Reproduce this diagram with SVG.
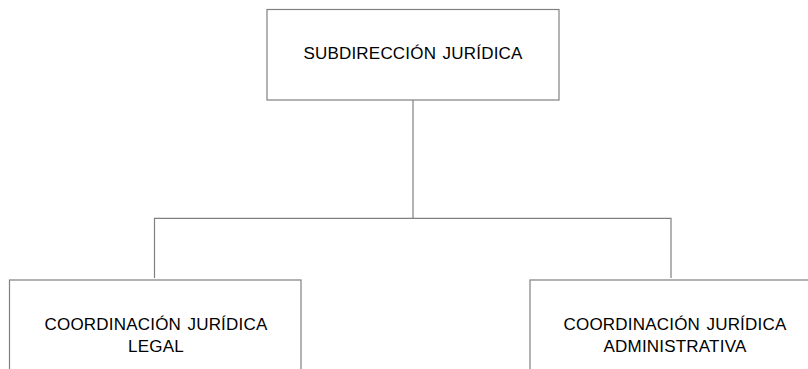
<svg xmlns="http://www.w3.org/2000/svg" width="808" height="369" viewBox="0 0 808 369">
<style>
.box{fill:#fff;stroke:#808080;stroke-width:1.2}
.ln{fill:none;stroke:#808080;stroke-width:1.2}
text{font-family:"Liberation Sans",Arial,sans-serif;font-size:17px;fill:#000;text-anchor:middle;letter-spacing:0.2px;word-spacing:1.5px}
</style>
<rect width="808" height="369" fill="#fff"/>
<g id="connectors">
<path class="ln" d="M413,100 V218.3 M154.5,278 V218.3 H671 V278"/>
</g>
<g id="node-subdireccion">
<rect class="box" x="267" y="9.5" width="292" height="90.5"/>
<text x="413" y="59">SUBDIRECCIÓN JURÍDICA</text>
</g>
<g id="node-legal">
<rect class="box" x="9.5" y="280" width="291.5" height="100"/>
<text x="156" y="330">COORDINACIÓN JURÍDICA</text>
<text x="156" y="351.7">LEGAL</text>
</g>
<g id="node-administrativa">
<rect class="box" x="530" y="280" width="292" height="100"/>
<text x="675" y="330">COORDINACIÓN JURÍDICA</text>
<text x="675" y="351.7">ADMINISTRATIVA</text>
</g>
</svg>
